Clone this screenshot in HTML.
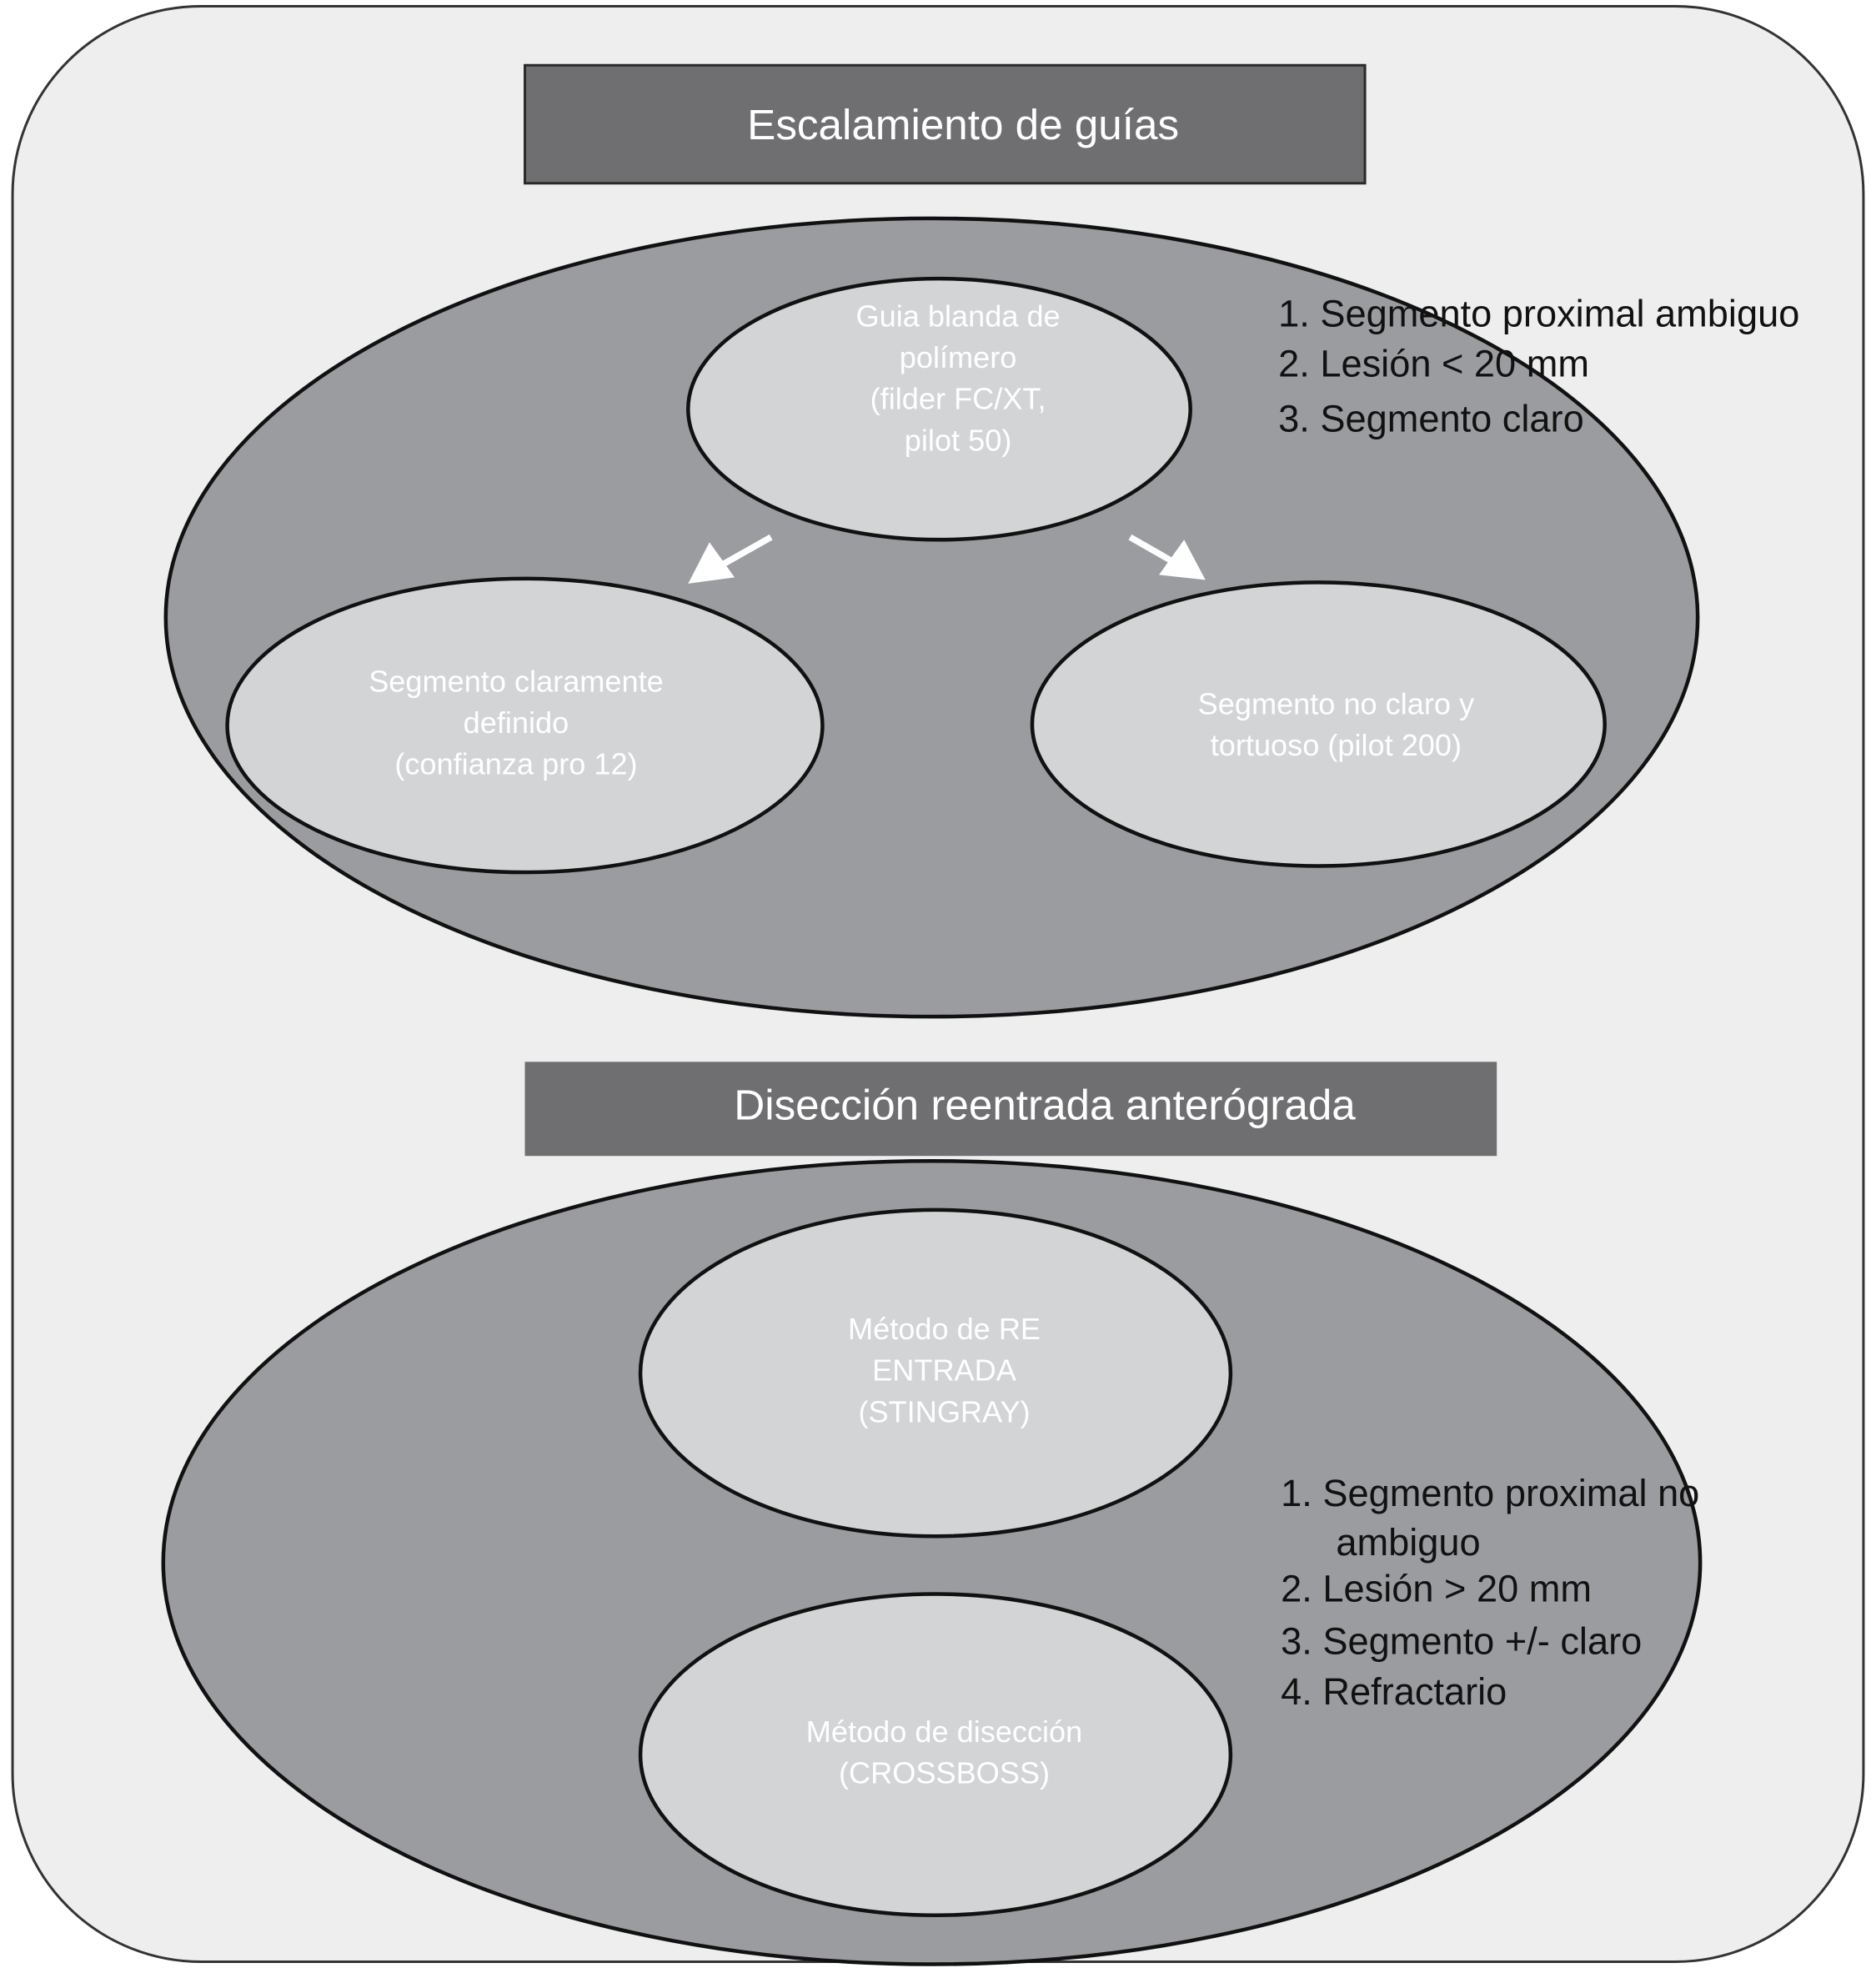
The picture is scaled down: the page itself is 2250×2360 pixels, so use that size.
<!DOCTYPE html>
<html><head><meta charset="utf-8"><style>
html,body{margin:0;padding:0;background:#fff;}
svg{display:block;}
text{font-family:"Liberation Sans",Arial,sans-serif;}
</style></head><body>
<svg width="2250" height="2360" viewBox="0 0 1494 1568" preserveAspectRatio="none" xmlns="http://www.w3.org/2000/svg">
<rect x="0" y="0" width="1494" height="1568" fill="#ffffff"/>
<rect x="10" y="5" width="1474" height="1558" rx="150" ry="150" fill="#eeeeee" stroke="#333" stroke-width="2"/>
<rect x="418" y="52" width="669" height="94" fill="#6f6f71" stroke="#2a2a2a" stroke-width="2"/>
<text x="767" y="111" font-size="34" fill="#fff" text-anchor="middle">Escalamiento de guías</text>
<ellipse cx="742" cy="492" rx="610" ry="318" fill="#9a9c9f" stroke="#111" stroke-width="3"/>
<ellipse cx="748" cy="326" rx="200" ry="104" fill="#d3d4d6" stroke="#111" stroke-width="3"/>
<g font-size="24" fill="#fff" text-anchor="middle">
<text x="763" y="260">Guia blanda de</text>
<text x="763" y="293">polímero</text>
<text x="763" y="326">(filder FC/XT,</text>
<text x="763" y="359">pilot 50)</text>
</g>
<ellipse cx="418" cy="578" rx="237" ry="117" fill="#d3d4d6" stroke="#111" stroke-width="3"/>
<g font-size="24" fill="#fff" text-anchor="middle">
<text x="411" y="551">Segmento claramente</text>
<text x="411" y="584">definido</text>
<text x="411" y="617">(confianza pro 12)</text>
</g>
<ellipse cx="1050" cy="577" rx="228" ry="113" fill="#d3d4d6" stroke="#111" stroke-width="3"/>
<g font-size="24" fill="#fff" text-anchor="middle">
<text x="1064" y="569">Segmento no claro y</text>
<text x="1064" y="602">tortuoso (pilot 200)</text>
</g>
<line x1="614" y1="428" x2="575" y2="450" stroke="#fff" stroke-width="5"/>
<polygon points="548,465 565,432 585,460" fill="#fff"/>
<line x1="900" y1="428" x2="935" y2="448" stroke="#fff" stroke-width="5"/>
<polygon points="960,462 943,430 923,458" fill="#fff"/>
<g font-size="30" fill="#111">
<text x="1018" y="260">1. Segmento proximal ambiguo</text>
<text x="1018" y="300">2. Lesión &lt; 20 mm</text>
<text x="1018" y="344">3. Segmento claro</text>
</g>
<rect x="418" y="846" width="774" height="75" fill="#6f6f71"/>
<text x="832" y="892" font-size="34" fill="#fff" text-anchor="middle">Disección reentrada anterógrada</text>
<ellipse cx="742" cy="1245" rx="612" ry="320" fill="#9a9c9f" stroke="#111" stroke-width="3"/>
<ellipse cx="745" cy="1094" rx="235" ry="130" fill="#d3d4d6" stroke="#111" stroke-width="3"/>
<g font-size="24" fill="#fff" text-anchor="middle">
<text x="752" y="1067">Método de RE</text>
<text x="752" y="1100">ENTRADA</text>
<text x="752" y="1133">(STINGRAY)</text>
</g>
<ellipse cx="745" cy="1398" rx="235" ry="128" fill="#d3d4d6" stroke="#111" stroke-width="3"/>
<g font-size="24" fill="#fff" text-anchor="middle">
<text x="752" y="1388">Método de disección</text>
<text x="752" y="1421">(CROSSBOSS)</text>
</g>
<g font-size="30" fill="#111">
<text x="1020" y="1200">1. Segmento proximal no</text>
<text x="1064" y="1239">ambiguo</text>
<text x="1020" y="1276">2. Lesión &gt; 20 mm</text>
<text x="1020" y="1318">3. Segmento +/- claro</text>
<text x="1020" y="1358">4. Refractario</text>
</g>
</svg>
</body></html>
